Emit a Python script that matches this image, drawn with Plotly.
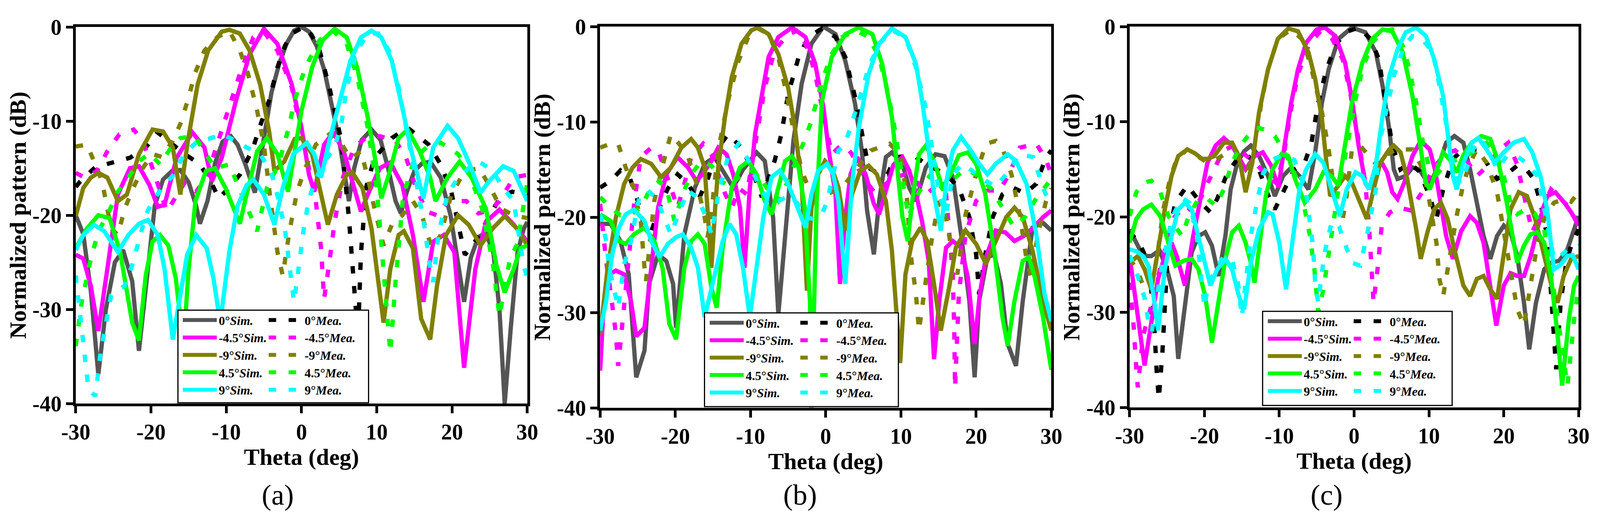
import plotly.graph_objects as go

# (theta in deg, normalized pattern in dB)
# ---- panel (a)
a_sim_0 = [(-30, -20), (-29, -22), (-28, -28), (-27, -36.9), (-26, -30), (-24.8, -25), (-23.7, -23.7),
           (-22.5, -27), (-21.6, -34.4), (-20.5, -26), (-19.5, -19), (-18.4, -16.2), (-17.2, -15.3),
           (-16.1, -15.2), (-15, -16.5), (-14, -19), (-13.5, -20.9), (-12.5, -18.5), (-11.5, -14.5),
           (-10.5, -12.2), (-9.4, -11.6), (-8.5, -12.5), (-7.5, -14.5), (-6.2, -17.6), (-5, -11.5),
           (-4, -7), (-3, -4), (-2, -1.8), (-1, -0.4), (0, 0), (1, -0.5), (2, -2), (3, -4.5), (4, -8),
           (5, -12), (5.8, -16), (6.3, -18.5), (7, -15), (8, -12), (9.3, -10.9), (10.5, -12), (11.5, -15),
           (12.5, -18.5), (13.2, -19.8), (14, -17.5), (15, -15.3), (16, -14.5), (17.1, -14.3), (18.5, -16),
           (19.8, -20), (20.8, -25), (21.6, -29.2), (22.5, -24.5), (23.5, -22.3), (24.5, -21.9), (25.5, -24),
           (26.3, -30), (27, -40), (27.8, -32), (28.7, -24), (29.5, -21.5), (30, -20.7)]
a_mea_0 = [(-30, -17), (-29.4, -16.4), (-27.4, -14.9), (-24.8, -14.4), (-22.8, -13.9), (-20.7, -12.8),
           (-19.1, -11.2), (-17.1, -12.5), (-15.5, -13.5), (-13.5, -14.6), (-12, -16.5), (-11, -18.2),
           (-9.5, -17), (-8.2, -15.7), (-6.5, -13), (-5.5, -10.5), (-4.3, -7.8), (-3.2, -4.3), (-2.2, -2),
           (-1.3, -0.7), (0.3, 0), (1.3, -0.8), (2.4, -2.5), (3.7, -6.4), (4.6, -9.5), (5.3, -12.1),
           (6.3, -20.3), (7, -27.4), (7.5, -33), (7.9, -24), (8.6, -17), (9.7, -13.9), (12, -11.8),
           (14.1, -10.7), (16.9, -12.5), (18.5, -14.6), (19.9, -17.5), (21.7, -24.2), (22.5, -23.5),
           (23.6, -22.1), (25, -20), (26.5, -18), (28, -17.5), (30, -17.8)]
a_sim_m45 = [(-30, -24.2), (-29, -24.6), (-28, -27.5), (-27, -32.3), (-25.8, -25.7), (-24.4, -17.8),
             (-22.8, -15), (-21.6, -14.8), (-20.2, -16.8), (-19.1, -19.1), (-18.2, -18.9), (-16.6, -13.9),
             (-14.5, -11.2), (-12.9, -12.8), (-11.9, -16.4), (-10.6, -13.9), (-8.7, -7.8), (-6.9, -2.9),
             (-5, -0.2), (-3.2, -1.8), (-1.3, -6.1), (0, -10.7), (1, -15.7), (1.7, -17.5), (3, -12.5),
             (4.2, -11.2), (5.6, -13.2), (7, -17.1), (7.9, -19.6), (8.8, -17.8), (10.4, -15), (11.8, -14.4),
             (13.4, -16.8), (14.8, -22.1), (16.2, -29.2), (17.5, -22.8), (18.9, -22.1), (20.3, -23.9),
             (21.6, -36.2), (23.1, -25.7), (24.5, -20.7), (26.3, -19.4), (28.2, -21), (30, -22.8)]
a_mea_m45 = [(-30, -15.5), (-28.8, -16), (-27.2, -15.3), (-25.8, -13.2), (-24.2, -11.4), (-22.3, -10.9),
             (-21.1, -12.1), (-19.8, -15), (-17.9, -19.6), (-16.6, -18), (-15.5, -16.5), (-14, -17.5),
             (-12.4, -15.7), (-11.7, -13.7), (-10.1, -9.6), (-8.2, -5), (-6.4, -1.1), (-5, -0.5),
             (-3.2, -2.5), (-1.3, -6.4), (0.5, -13.2), (1.9, -18.5), (2.6, -23.5), (3, -28.9), (3.7, -25),
             (4.4, -20.7), (5.5, -16), (7, -12.8), (8.5, -11.8), (10.4, -11.6), (12.5, -12.1), (13.9, -13.9),
             (15, -16.6), (16.6, -19.6), (18, -20), (19.4, -18.5), (21.9, -18.5), (23.5, -19.8), (25, -19.5),
             (26.3, -18.5), (28.2, -16), (30, -15.7)]
a_sim_m9 = [(-30, -20.1), (-29, -17.1), (-28, -16), (-27, -15.5), (-25.8, -16), (-24.4, -18.5), (-23.2, -17.8),
            (-21.6, -13.5), (-19.8, -10.9), (-18.4, -11.1), (-17.1, -12.8), (-16.1, -17.8), (-15.1, -12.1),
            (-13.8, -6.1), (-12.4, -2.5), (-10.6, -0.5), (-9.6, -0.3), (-8.2, -0.7), (-6.9, -2.5),
            (-5.5, -6.1), (-4.3, -11.1), (-3.6, -15.3), (-2.3, -14.3), (-0.9, -11.9), (0, -11.8),
            (1.4, -13.5), (2.6, -17.8), (3.5, -21), (4.7, -17.8), (6, -15.7), (6.7, -15.4), (8.1, -17.1),
            (9.3, -21.4), (10.2, -27.5), (10.9, -31.4), (11.8, -25.7), (12.9, -22.1), (13.6, -21.7),
            (14.8, -23.5), (15.9, -31), (17.1, -33.2), (18, -27.5), (19.2, -22.1), (20.8, -20), (22.2, -21),
            (23.8, -23.2), (25.4, -21.4), (27, -20.1), (28.6, -21.4), (30, -23.2)]
a_mea_m9 = [(-30, -12.7), (-28.5, -12.5), (-27.4, -14.6), (-26.5, -16.4), (-25.3, -21.4), (-24.4, -22.1),
            (-23.5, -19.3), (-22.3, -17), (-21.1, -15), (-19.8, -13.5), (-18.6, -13.8), (-17.1, -12.1),
            (-16.1, -10.3), (-15, -7.5), (-14.2, -5), (-12.9, -2.5), (-11.2, -1.1), (-9.6, -0.4),
            (-8.2, -2.5), (-7.1, -5), (-5.9, -8.9), (-5, -12.5), (-4.1, -18.5), (-3.2, -23.9), (-2.5, -26.4),
            (-1.6, -21.7), (-0.6, -17.5), (0.5, -15), (1.9, -12.5), (3.7, -11.4), (5.1, -12.1), (6.5, -14),
            (7.9, -13.2), (8.8, -16), (9.7, -19.3), (10.9, -23.2), (12, -21), (13.4, -20), (14.8, -18.5),
            (16, -20), (17.3, -23.5), (18.5, -22.1), (19.9, -17.8), (21.7, -15.3), (23.6, -15), (25, -16.9),
            (26.5, -19.3), (28.2, -20), (30, -20.3)]
a_sim_45 = [(-30, -23.5), (-28.5, -21.4), (-27, -20), (-25.5, -20.3), (-24.1, -23.9), (-22.5, -31.4),
            (-21.6, -33.3), (-20.7, -26.4), (-19.8, -22.8), (-18.8, -22.1), (-17.7, -23.2), (-16.7, -26.7),
            (-16.1, -31), (-15.7, -34), (-15, -25.7), (-14.1, -18.5), (-12.7, -15.3), (-11.5, -15),
            (-10.1, -17.1), (-8.2, -20.9), (-7.3, -17.8), (-5.9, -13.2), (-4.6, -11.8), (-3.2, -13.5),
            (-1.8, -17.5), (-0.9, -13.2), (0, -8.9), (1.4, -4.3), (2.8, -1.4), (4.4, -0.2), (6, -1.1),
            (7.4, -4.3), (8.8, -9.6), (10, -15), (10.6, -18.2), (11.6, -15.7), (12.9, -11.8), (14.1, -10.9),
            (15.7, -13.2), (17.1, -16), (17.8, -18.5), (19.4, -16), (21, -14.3), (22.6, -16), (24.5, -19.3),
            (25.9, -25.3), (27, -28.2), (28.2, -25.7), (29.1, -23.5), (30, -23.2)]
a_mea_45 = [(-30, -33.9), (-29.2, -29.2), (-28.1, -25), (-27, -21.7), (-25.8, -20), (-24.4, -17.5), (-23, -16),
            (-21.6, -14.3), (-20.2, -13.4), (-18.8, -14.6), (-17.5, -13), (-16.1, -11.8), (-14.2, -11.6),
            (-12.9, -13.2), (-11.5, -15), (-9.6, -14.6), (-7.8, -18), (-5.9, -21.7), (-4.6, -17.1),
            (-3, -14.5), (-1.8, -11), (-0.9, -7.8), (0.5, -4.3), (2.4, -1.4), (4.2, -0.4), (6, -1.8),
            (7.4, -5.3), (8.8, -10.7), (10, -17.1), (10.6, -22.8), (11.3, -28.5), (11.8, -34.6), (12.5, -27),
            (13.5, -18), (15, -14), (16.6, -12.8), (18.5, -12.3), (20.8, -13.5), (22, -15), (24, -19.3),
            (25.4, -25), (26.3, -30.7), (27.7, -24.6), (28.7, -23), (29.5, -19), (30, -16.5)]
a_sim_9 = [(-30, -23.7), (-29, -22.1), (-27.6, -21), (-26.2, -21.7), (-24.4, -23.9), (-23, -22.1),
           (-21.6, -20.9), (-20.4, -20.5), (-19.1, -22.1), (-18.2, -25.7), (-17.1, -33.2), (-16.1, -28.2),
           (-15.2, -24.2), (-14, -22.1), (-12.6, -23.5), (-11.7, -26.7), (-10.8, -31.4), (-9.6, -23.9),
           (-8.5, -19), (-7.3, -16.8), (-6.4, -16.2), (-5, -17.8), (-3.6, -21), (-2.5, -17.1), (-1.1, -13.5),
           (0.7, -12.3), (1.7, -13.5), (2.6, -16), (3.7, -12.1), (5.1, -7.8), (6.5, -3.6), (7.9, -1.1),
           (9.3, -0.4), (10.6, -1.1), (12, -3.6), (13.4, -8.6), (14.6, -13.2), (16.2, -18.2), (17.5, -12.8),
           (19.4, -10.5), (20.8, -11.8), (22.2, -14.3), (23.8, -17.6), (24.9, -16.4), (26.8, -14.8),
           (28.2, -15.3), (30, -18.5)]
a_mea_9 = [(-30, -26.4), (-29.4, -31), (-28.8, -34.6), (-28.3, -38.5), (-27.4, -39.2), (-26.7, -34.6),
           (-25.3, -28.5), (-23.5, -27.5), (-22.5, -25.3), (-21.5, -22.5), (-20.7, -20), (-19.8, -18.5),
           (-18.4, -17), (-17, -15.7), (-15.6, -13.5), (-13.8, -12.1), (-12.4, -11.9), (-10.6, -11.4),
           (-8.7, -12.1), (-7.3, -12.8), (-5.5, -13.5), (-4, -15.5), (-3, -18.5), (-2.2, -21.5),
           (-1.6, -25), (-1, -29.2), (-0.4, -25.7), (0.3, -21.4), (1, -18.2), (2, -16), (3, -14.3),
           (4.3, -13), (5.3, -10.3), (6, -6.4), (7.4, -2.5), (8.8, -0.7), (10.2, -0.7), (11.6, -2.5),
           (12.9, -6.4), (14.1, -11.4), (15.2, -16), (16.3, -21), (17, -25), (17.5, -27.1), (18.2, -22),
           (19.4, -17.8), (20.8, -16), (22.2, -15), (23.6, -14.3), (25.4, -15.3), (26.8, -17.1),
           (28.2, -18.5), (29.5, -25.3), (30, -26.7)]

# ---- panel (b)
b_sim_0 = [(-30, -20.7), (-28.6, -20.7), (-27.3, -22.5), (-26.2, -26), (-25.2, -36.8), (-24.1, -34),
           (-23.5, -27), (-22.3, -23.9), (-21.2, -24.6), (-20.3, -27), (-19.9, -31.6), (-18.8, -21.8),
           (-17.4, -16.9), (-16.1, -14.4), (-14.8, -13.7), (-13.4, -15.5), (-12.3, -16.9), (-11, -15),
           (-9.2, -13.2), (-8.1, -14.1), (-7, -20), (-6.3, -30.2), (-5.4, -21.8), (-4.3, -12), (-3.2, -6),
           (-1.9, -1.8), (-0.3, 0), (1.3, -0.8), (2.6, -3.6), (3.9, -8.1), (4.8, -13), (5.5, -19.3),
           (6.4, -23.9), (7.1, -18.3), (8, -13.7), (8.8, -13.2), (10.2, -14.4), (11.1, -16.9), (12, -18.3),
           (13.3, -14.8), (14.6, -13.4), (15.8, -13.6), (16.9, -15.8), (18, -21.8), (19.1, -28.8),
           (19.8, -36.8), (20.4, -28.8), (21.5, -24.2), (22.4, -23.9), (23.3, -27), (24.2, -33.3),
           (25.3, -35.6), (26.2, -28.8), (27.5, -21.1), (28.9, -20.6), (30, -21.4)]
b_mea_0 = [(-30, -16.9), (-28.6, -16.2), (-27.3, -15.1), (-26, -16), (-25, -18.3), (-24.1, -21.1),
           (-23.2, -21.5), (-22.1, -19), (-21, -17), (-19.7, -15.5), (-18.3, -16.5), (-17, -18.3),
           (-15.7, -16), (-14.3, -12.7), (-13, -11.3), (-11.2, -12.7), (-9.9, -14.8), (-8.5, -17.9),
           (-6.8, -14.1), (-5.9, -11.3), (-5, -7.1), (-3.6, -3.2), (-2.3, -1.1), (-0.5, -0.2), (1.3, -1.1),
           (2.6, -3.2), (3.9, -7.4), (4.8, -11.3), (5.7, -14.8), (7.1, -15.5), (8.2, -15.5), (9.3, -13.7),
           (10.6, -13.6), (12, -13.7), (13.3, -14.4), (14.7, -15), (16, -15.5), (17.7, -16.9), (19.1, -20),
           (20, -23.9), (20.4, -28.1), (21.2, -24), (22.2, -20), (23.5, -17.6), (24.9, -16.9), (26.5, -17.5),
           (28, -16.5), (29.3, -13.7), (30, -13)]
b_sim_m45 = [(-30, -36.1), (-29.5, -28.8), (-28.8, -26), (-27.9, -25.6), (-26.8, -26), (-25.9, -28.8),
             (-25.2, -32.5), (-24.1, -31.6), (-23.2, -25.3), (-22.3, -19), (-21.2, -15.5), (-19.7, -13.7),
             (-18.3, -14.8), (-17.2, -16.2), (-16.2, -15.3), (-15.2, -14.1), (-14.3, -12.7), (-13.2, -13.4),
             (-12.3, -15.5), (-11.4, -19), (-10.8, -25.3), (-10.1, -17), (-9.4, -11.3), (-8.5, -7.1),
             (-7.6, -3.2), (-6.3, -1.1), (-4.5, -0.1), (-2.7, -1.1), (-1.4, -3.9), (-0.3, -8.5), (0.4, -13),
             (1.3, -17.6), (1.7, -25.3), (1.9, -27), (2.6, -20), (3.3, -15.5), (4.2, -13.7), (5.3, -15.5),
             (6.4, -18.6), (7.1, -19.7), (8, -17.2), (9, -14.5), (10.2, -13.7), (11.1, -15.1), (12, -17.5),
             (12.8, -20.4), (13.7, -24.6), (14.4, -34.9), (15.1, -28.8), (16, -23.2), (16.9, -22.5),
             (18, -23.2), (18.9, -26.3), (19.8, -33.3), (20.5, -28), (21.3, -24.2), (22.6, -21.4),
             (23.9, -21.6), (25.1, -22.5), (26.3, -22), (27.6, -21.1), (28.9, -20), (30, -19.3)]
b_mea_m45 = [(-30, -18.6), (-29.2, -24.6), (-28.5, -28.5), (-27.9, -32.3), (-27.6, -35.6), (-26.8, -28.8),
             (-26.1, -23.5), (-25.4, -18), (-24.6, -13.7), (-23.2, -12.7), (-22.2, -13.2), (-21.5, -14.8),
             (-20.6, -17), (-19.7, -19), (-18.8, -16.5), (-17.9, -13.7), (-16.3, -12.3), (-15.2, -13.4),
             (-14.3, -15.5), (-13.4, -17.5), (-12.5, -19), (-11.5, -17), (-10.5, -17.6), (-9.8, -14.5),
             (-9, -10.9), (-8.1, -6.4), (-6.8, -2.5), (-5, -0.8), (-3.6, -0.4), (-2.3, -2.5), (-1.4, -5),
             (-0.5, -8.5), (0.2, -11.3), (0.8, -13.4), (1.7, -12.7), (2.6, -12.5), (3.5, -13.4), (4.4, -15),
             (5.3, -16.2), (6.6, -17.5), (8, -16.5), (9.3, -15.8), (10.6, -15.5), (12, -16.2), (13.3, -17.6),
             (14.6, -16.8), (16, -17.6), (16.9, -26), (17.1, -32.3), (17.2, -37.9), (17.7, -28.1),
             (18.6, -21.8), (20, -18.3), (21.5, -17.2), (23.1, -17.2), (24.4, -15.5), (25.8, -12.7),
             (28, -12.3), (29.2, -13.8), (30, -15.5)]
b_sim_m9 = [(-30, -32.3), (-29, -25.3), (-27.9, -20), (-26.8, -16.5), (-25.7, -14.8), (-24.6, -13.9),
            (-23.2, -14.4), (-21.9, -15.8), (-20.6, -14.8), (-19.2, -12.7), (-17.9, -11.8), (-17, -12.7),
            (-16.1, -14.8), (-15.6, -20), (-15.2, -25.3), (-14.7, -19), (-14.3, -14.8), (-13.4, -9.5),
            (-12.5, -5.3), (-11.2, -1.8), (-9.9, -0.4), (-9, -0.1), (-7.6, -0.8), (-6.3, -2.9), (-5, -6.4),
            (-4.1, -10.6), (-3.2, -16.5), (-2.5, -27.7), (-1.9, -19), (-1, -15.5), (-0.1, -14.1),
            (0.8, -14.8), (1.7, -16.9), (2.6, -21.4), (3.5, -17.6), (4.6, -15.1), (5.7, -14.6), (6.8, -15.5),
            (8, -18.3), (8.8, -23.5), (9.9, -35.3), (10.6, -26), (11.5, -22.5), (12.6, -21.1), (13.5, -22.5),
            (14.4, -27), (15.3, -31.9), (16.4, -27.4), (17.3, -23.2), (18.6, -21.4), (20, -22.8),
            (21.3, -24.9), (22.6, -22.5), (24, -20), (25.1, -19), (26.2, -20), (27.5, -23.5), (28.9, -28.8),
            (30, -31.9)]
b_mea_m9 = [(-30, -12.7), (-28.6, -12.3), (-27.6, -12.3), (-26.6, -14.8), (-25.5, -17), (-24.6, -20.4),
            (-24.1, -25.3), (-23.9, -26.7), (-23.3, -22), (-22.8, -18.3), (-21.5, -14), (-20.6, -11.3),
            (-19.5, -12.3), (-18.3, -13.7), (-17, -16.9), (-16.1, -20), (-15.7, -22.1), (-15, -18),
            (-14.3, -13), (-13, -7.8), (-11.6, -3.6), (-10.3, -1.1), (-9, -0.2), (-7.6, -0.8), (-6.3, -3.2),
            (-5.2, -7.1), (-4.1, -11.7), (-3.2, -15.1), (-2, -17.5), (-1, -18), (0.5, -17.5), (1.5, -17),
            (2.6, -16.5), (4.5, -14.5), (6, -13), (8.5, -12.3), (10, -13.5), (10.8, -18), (11.3, -23.9),
            (12, -28.1), (12.4, -31.9), (13.3, -26.7), (14.2, -21.8), (15.1, -18.3), (16, -20), (16.9, -24.2),
            (17.5, -26), (18.6, -19.7), (20, -15.5), (21.3, -12.3), (22.6, -12), (23.6, -13), (24.7, -15.5),
            (25.8, -19.7), (26.6, -23.9), (27.3, -26.3), (28.2, -21.8), (29.3, -18.3), (30, -17)]
b_sim_45 = [(-30, -19.7), (-28.6, -20.4), (-27.5, -22.5), (-26.6, -22.8), (-25.5, -21.8), (-24.1, -21.1),
            (-22.8, -22.5), (-21.7, -25.3), (-20.8, -31.2), (-19.9, -32.8), (-18.8, -25.3), (-17.9, -22.5),
            (-17, -21.8), (-16.1, -22.8), (-15.2, -27.4), (-14.5, -29.5), (-13.7, -23.2), (-12.5, -16.9),
            (-11.4, -14.8), (-10.3, -14.1), (-9.2, -15.5), (-8.1, -18.3), (-7.2, -19.7), (-6.3, -16.9),
            (-5.4, -14.1), (-4.5, -13.6), (-3.6, -14.8), (-2.8, -19), (-2.1, -28.8), (-1.9, -40),
            (-1.2, -18.3), (-0.5, -7.8), (0.8, -3.2), (2.6, -0.8), (4.4, -0.1), (6.2, -0.8), (7.5, -3.9),
            (8.8, -9.5), (9.8, -16.5), (10.2, -20), (10.9, -22.5), (11.5, -18.3), (12.4, -13.4),
            (13.3, -12.5), (14.4, -14.1), (15.5, -16.9), (16.6, -15.5), (17.7, -13.5), (18.9, -13.2),
            (20, -14.4), (21.2, -17.5), (22.4, -23.5), (23.5, -30.5), (24.2, -33.5), (25.1, -28.8),
            (26.2, -24.6), (27, -24.2), (27.8, -26.3), (28.9, -30.5), (29.8, -35.6), (30, -36)]
b_mea_45 = [(-30, -17.9), (-28.6, -19), (-27.3, -19.8), (-25.9, -19.7), (-24.6, -19), (-23.3, -17),
            (-22.1, -16.2), (-21, -17.6), (-20.1, -20.4), (-19, -17.5), (-17.9, -15.5), (-16.5, -14.1),
            (-15.2, -14.6), (-13.9, -16.2), (-12.8, -16.8), (-11.6, -15.8), (-10.3, -15), (-9, -15.5),
            (-7.6, -17.2), (-6.3, -18.3), (-5.2, -16.5), (-4.1, -14.5), (-3, -12.3), (-1.9, -9.9),
            (-0.5, -5.7), (0.8, -2.9), (2.2, -1.1), (4, -0.4), (5.7, -1.1), (7.1, -3.2), (8.4, -7.4),
            (9.3, -11.3), (10.2, -16.2), (11, -20), (12, -18), (13, -16.5), (14, -15.5), (15.5, -17),
            (17, -16), (18.5, -15), (20, -15.5), (22, -17), (23.5, -19), (25, -21), (26.5, -20), (28, -18),
            (30, -16)]
b_sim_9 = [(-30, -31.9), (-29.2, -28.8), (-28.4, -23.9), (-27.5, -21.1), (-26.6, -19.7), (-25.5, -19.2),
           (-24.1, -20.4), (-23.2, -22.5), (-22.1, -24.2), (-21, -22.8), (-19.9, -22.1), (-19, -21.8),
           (-17.9, -23.2), (-17, -25.3), (-16.1, -30.5), (-15.2, -27.5), (-14.5, -25.3), (-13.7, -22.5),
           (-12.8, -20.7), (-11.9, -21.8), (-11, -25.3), (-10.1, -30.5), (-9.2, -25.3), (-8.3, -20),
           (-7.2, -15.8), (-6.1, -15.1), (-5, -16.5), (-3.8, -19), (-2.7, -21.1), (-1.9, -17.6),
           (-1, -15.1), (0.2, -14.4), (1, -15.5), (1.7, -18.3), (2.6, -27), (3.5, -16.5), (4.4, -10.6),
           (5.7, -5), (7.1, -1.8), (8.8, -0.2), (10.6, -1.1), (12, -3.9), (12.9, -8.2), (13.7, -13),
           (14.4, -17.6), (15.3, -21.4), (16.1, -16), (16.9, -13), (18, -11.6), (19.3, -13), (20.4, -14.4),
           (21.5, -15.5), (22.6, -14.4), (24.2, -13.4), (25.3, -14.1), (26.7, -16.5), (28, -21.8),
           (29.1, -28.1), (30, -30.9)]
b_mea_9 = [(-30, -19.7), (-29.2, -22.5), (-28.8, -25.3), (-28.2, -27.5), (-27.6, -29.5), (-26.8, -24.9),
           (-25.9, -22.5), (-24.8, -17.9), (-23.7, -17.2), (-22.5, -18), (-21.5, -20), (-20.6, -21.8),
           (-19.4, -19.3), (-18.3, -17.2), (-17, -18), (-15.7, -20.4), (-15.2, -21.8), (-14.3, -17.6),
           (-13, -13.7), (-11.6, -12.3), (-10.3, -14), (-9, -16.5), (-7.6, -18.3), (-6.3, -18.3),
           (-5, -17.8), (-3.8, -18.5), (-2.7, -20), (-1.5, -20.2), (-0.5, -19.7), (0.2, -18.3), (1, -15.5),
           (1.7, -13), (2.5, -12.5), (3.3, -10.6), (4.4, -7.8), (5.7, -4.3), (7.1, -1.8), (8.8, -0.4),
           (10.6, -1.1), (12, -4.3), (13.3, -8.5), (14.2, -13), (15.1, -17.6), (16, -19.7), (16.9, -15.5),
           (18.2, -14.4), (19.7, -15.3), (21.3, -16.2), (22.6, -16.8), (24, -15.5), (25.8, -13.4),
           (27.6, -13.7), (28.9, -16.9), (30, -19)]

# ---- panel (c)
c_sim_0 = [(-30, -21.3), (-29.1, -22.7), (-28.2, -24.1), (-27.1, -24.1), (-26, -23.5), (-25, -25.5),
           (-24.1, -28.3), (-23.5, -34.9), (-22.6, -29.7), (-21.7, -23.7), (-20.8, -22), (-19.9, -21.6),
           (-19, -23), (-18.1, -26.2), (-17.2, -22), (-16.5, -17.1), (-15.6, -14.3), (-14.7, -13.1),
           (-13.8, -12.5), (-12.7, -13.6), (-11.5, -15.7), (-10.6, -17.8), (-9.5, -15.7), (-8.4, -14.8),
           (-7.3, -15.7), (-6.1, -17.1), (-5.2, -13.2), (-4.3, -8), (-3.4, -4.5), (-2.1, -1.3), (-0.3, -0.1),
           (1.5, -0.6), (2.9, -2.7), (3.8, -6.2), (4.7, -10.8), (5.3, -15), (5.8, -16), (6.9, -15.7),
           (7.8, -14.8), (8.7, -15), (10.1, -16.7), (11.4, -14.3), (12.3, -12.2), (13.4, -11.5),
           (14.6, -12.2), (15.5, -15), (16.4, -18.5), (17.3, -22), (18.2, -24.4), (19.1, -22), (20, -20.9),
           (20.9, -21.6), (21.8, -24.1), (22.7, -29), (23.4, -33.9), (24.3, -29), (25.4, -25.5),
           (26.3, -24.8), (27.4, -24.6), (28.5, -23.4), (30, -19.9)]
c_mea_0 = [(-30, -21.6), (-28.7, -22.7), (-27.5, -24.8), (-26.8, -30), (-26.4, -36), (-26.1, -39.1),
           (-25.6, -34), (-25.2, -28), (-24.8, -22), (-23.9, -18.5), (-22.3, -16.7), (-20.5, -18.5),
           (-19.2, -19.5), (-18.3, -18.1), (-17, -15.5), (-15.6, -13.9), (-14.3, -13.5), (-12.9, -14.6),
           (-11.6, -17.5), (-10.6, -19.2), (-9.3, -17.1), (-8, -15), (-6.6, -14.3), (-5.7, -12.2),
           (-4.8, -8), (-3.7, -4.5), (-2.5, -2), (-1.2, -0.6), (0.6, -0.1), (2.2, -1.3), (3.3, -3.4),
           (4.2, -8), (5.1, -12.5), (6.2, -15), (7.4, -14.3), (8.7, -15.2), (10.1, -17.8), (11, -20.2),
           (11.9, -17.1), (13.2, -13.9), (14.6, -12.9), (16.4, -12.9), (17.7, -14.3), (19.1, -16),
           (20.4, -15.5), (21.8, -14.6), (23, -15), (24, -16), (24.9, -18.5), (25.8, -22), (26.3, -27.2),
           (26.7, -32.5), (27, -36), (27.6, -29), (28.3, -25), (29, -23), (30, -21.3)]
c_sim_m45 = [(-30, -24.1), (-29.3, -27.9), (-28.6, -31.8), (-28, -35.6), (-27.1, -31.1), (-26.2, -26.5),
             (-25.3, -24.1), (-24.4, -22.7), (-23.7, -24.1), (-22.6, -27.2), (-21.5, -22), (-20.5, -17.8),
             (-19.6, -14.3), (-18.5, -12.5), (-17.4, -11.7), (-16.3, -12.5), (-15.1, -14.3), (-14.5, -15),
             (-13.3, -13.6), (-12.2, -13.2), (-11.1, -14.6), (-10.1, -16.9), (-9.3, -12.5), (-8.4, -8),
             (-7.5, -4.5), (-6.4, -1.7), (-5, -0.3), (-3.9, -0.1), (-2.5, -1), (-1.2, -3.8), (-0.3, -7.6),
             (0.6, -12.5), (1.5, -16.4), (2, -17.1), (2.9, -14.6), (3.7, -14.3), (4.4, -15.3), (5.1, -17.4),
             (5.8, -18.1), (6.7, -16.4), (7.8, -13.6), (8.9, -12), (10.1, -12.9), (10.8, -15), (11.4, -17.8),
             (12.3, -22), (13.2, -24.4), (14.3, -21.5), (15.5, -19.9), (16.4, -20.6), (17.3, -22.7),
             (18.2, -27.2), (19, -31.4), (20, -27.2), (20.9, -25.9), (21.8, -26.2), (22.7, -26.2),
             (23.6, -24.1), (24.7, -20.6), (25.8, -17.8), (26.9, -17.4), (28.1, -18.5), (29, -19.5),
             (30, -20.9)]
c_mea_m45 = [(-30, -26.9), (-29.5, -31), (-29.1, -36), (-28.9, -37.9), (-28.2, -32.5), (-27, -29),
             (-25.5, -24), (-24, -20), (-22.5, -18.8), (-21.5, -19.5), (-20.5, -18), (-19, -15.5),
             (-17.5, -13), (-16, -12.5), (-14.5, -13.5), (-13, -14.5), (-11.5, -15.8), (-10.3, -16.5),
             (-9.3, -13), (-8.5, -9), (-7.5, -5), (-6, -1.8), (-4.5, -0.5), (-3, -1.2), (-1.5, -3.5),
             (-0.5, -7), (0.5, -11.5), (1.5, -16.5), (2, -21), (2.3, -25.5), (2.6, -29), (3.2, -25),
             (3.7, -20.8), (4.8, -19.5), (6, -19), (7.5, -19.3), (9, -17.5), (10.5, -15), (12, -13.5),
             (13.5, -13), (15, -14), (16.4, -15.7), (18, -14.5), (19.3, -13), (20.6, -12.2), (21.8, -14.5),
             (22.9, -18.5), (23.8, -21.6), (25, -19.5), (26.3, -17.1), (27.6, -18.1), (28.8, -19), (30, -21)]
c_sim_m9 = [(-30, -24.8), (-28.9, -24.1), (-28, -25.5), (-27.1, -27.6), (-26.2, -23.5), (-25.3, -19.2),
            (-24.4, -15.7), (-23.5, -13.6), (-22.3, -12.9), (-21.3, -13.3), (-20.3, -13.9), (-19.6, -13.9),
            (-18.7, -13.6), (-17.4, -12.2), (-16.3, -12.2), (-15.4, -13.6), (-14.5, -17.4), (-13.6, -14.3),
            (-12.7, -9), (-11.5, -4.5), (-10.2, -1.3), (-8.8, -0.2), (-7.5, -0.5), (-6.1, -2.7), (-5.2, -5.5),
            (-4.3, -9.7), (-3.7, -14.3), (-3.2, -17.8), (-2.1, -16.7), (-1.2, -15.7), (-0.3, -16.4),
            (0.8, -18.5), (1.7, -20.2), (2.6, -17.1), (3.5, -14.3), (4.7, -12.9), (5.3, -12.5), (6.2, -13.2),
            (7.1, -16), (8.3, -21.3), (8.9, -24.4), (9.8, -21.6), (10.7, -19.2), (11.6, -18.5),
            (12.5, -20.2), (13.4, -23.4), (14.6, -27.2), (15.5, -28.3), (16.4, -26.5), (17.3, -26.2),
            (18.2, -27.6), (19.1, -28.6), (20, -24.1), (20.9, -19.2), (22, -17.4), (23.1, -17.8),
            (24.2, -20.2), (25.4, -24.1), (26.5, -27.6), (27.2, -29), (28, -26.2), (29, -24.4), (30, -24.1)]
c_mea_m9 = [(-30, -24.4), (-29, -25.5), (-28.2, -27.2), (-27.1, -27.5), (-26.2, -23.5), (-25.5, -19.2),
            (-24.6, -16), (-23.7, -13.9), (-22.3, -12.9), (-21, -13.6), (-19.6, -14.3), (-18.3, -13.9),
            (-16.9, -13.2), (-15.9, -13.5), (-14.2, -15), (-13.3, -12.5), (-12.4, -8), (-11.5, -4.5),
            (-10.2, -1.3), (-8.4, -0.3), (-7, -1.3), (-5.9, -3.8), (-5.2, -6.2), (-4.3, -9), (-3.4, -12.9),
            (-2.8, -16.4), (-2.2, -19), (-1.6, -20.6), (-1, -17.8), (-0.3, -12.9), (0.8, -12.5),
            (2, -13.6), (3.1, -14.6), (4.3, -13.5), (5.6, -12.9), (7.8, -12.9), (9.2, -15), (10.1, -18.5),
            (11, -22.7), (11.4, -26.5), (11.9, -28.3), (12.8, -24.1), (13.7, -19.9), (14.6, -16.5),
            (15.5, -14.3), (16.4, -12.9), (17.7, -14.3), (19.1, -17.4), (20, -21.5), (20.9, -26.2),
            (21.8, -29.7), (22.7, -31.4), (23.6, -27.2), (24.5, -22.7), (25.4, -20.2), (26.7, -18.5),
            (28.1, -18.1), (29, -18.4), (30, -17.4)]
c_sim_45 = [(-30, -22.7), (-29.1, -20.2), (-28.2, -19.2), (-27.1, -18.7), (-25.9, -19.9), (-24.8, -22.7),
            (-23.9, -25.1), (-22.8, -24.6), (-21.7, -24.4), (-20.8, -25.5), (-19.9, -28.3), (-19, -33.2),
            (-18.1, -28.8), (-17.2, -24.4), (-16.3, -21.6), (-15.4, -20.9), (-14.5, -22.7), (-13.8, -24.8),
            (-13.3, -26.9), (-12.6, -22.5), (-11.8, -17.8), (-10.9, -15), (-9.7, -13.4), (-8.8, -13.6),
            (-7.9, -16), (-6.6, -18.5), (-5.2, -17.1), (-4.1, -15.3), (-3, -15.7), (-2.1, -16.7),
            (-1.2, -12.2), (-0.3, -8), (1.1, -3.8), (2.4, -1.3), (3.8, -0.3), (5.1, -0.5), (6.5, -2.7),
            (7.8, -7.3), (8.7, -11.8), (9.6, -16.4), (10.1, -17.1), (11, -15), (11.9, -13.2), (12.8, -14),
            (13.7, -15.3), (14.6, -13.5), (15.7, -12.2), (17, -11.5), (18.2, -11.8), (19.3, -14.3),
            (20.4, -18.5), (21.8, -24.8), (22.7, -23), (23.6, -21.8), (24.5, -21.6), (25.4, -22.7),
            (26.3, -26.2), (27.2, -32.5), (27.8, -37.7), (28.7, -30.7), (29.4, -27.2), (30, -26.2)]
c_mea_45 = [(-30, -19.9), (-29.1, -17.4), (-28.2, -16.4), (-27.1, -16.2), (-25.9, -17.4), (-24.8, -19.9),
            (-23.9, -21), (-23, -22), (-22.1, -19.9), (-20.8, -18.1), (-19.6, -18.1), (-18.5, -18.8),
            (-17.4, -17.1), (-16.3, -14.3), (-15.2, -12.5), (-14.2, -11.5), (-13.1, -10.6), (-12, -10.8),
            (-10.6, -11.5), (-9.5, -12.9), (-8.4, -14.6), (-7.5, -16.4), (-6.6, -19.2), (-5.9, -22),
            (-5.3, -25.5), (-5, -29), (-4.8, -30), (-4.1, -27.6), (-3.4, -24.1), (-2.8, -20.5), (-2.1, -17.1),
            (-1, -12.9), (0.2, -7.6), (1.1, -4.5), (2.4, -1.7), (3.8, -0.5), (5.1, -0.3), (6.5, -2),
            (7.4, -4.5), (8.3, -8), (9.2, -12.2), (10.1, -15), (11.1, -15.5), (12.3, -14.3), (13.7, -14),
            (15, -13.6), (16.4, -12.9), (17.7, -12.2), (19.1, -13.6), (20, -15.7), (20.9, -18.5),
            (21.8, -19.7), (22.9, -19.2), (24.1, -19.6), (25.4, -21.3), (26.3, -25.5), (27.2, -30.5),
            (28.1, -36), (28.5, -37.7), (29, -34), (29.4, -30.7), (30, -27.2)]
c_sim_9 = [(-30, -23.4), (-29.1, -23.6), (-28.2, -24.1), (-27.5, -25.1), (-26.8, -28.3), (-26.2, -31.9),
           (-25.3, -25.5), (-24.4, -22), (-23.5, -19.2), (-22.6, -18.5), (-21.7, -19.2), (-20.8, -22),
           (-19.9, -24.8), (-19.2, -27.2), (-18.3, -25.5), (-17.2, -24.4), (-16.3, -25.5), (-15.4, -28.3),
           (-14.7, -29.7), (-13.8, -24.8), (-12.7, -21.3), (-11.5, -19.5), (-10.9, -19.7), (-10, -22.7),
           (-9.1, -27.6), (-8.2, -22), (-7.3, -17.1), (-6.4, -15), (-5.2, -13.4), (-4.1, -14.3),
           (-2.8, -17.8), (-1.9, -19.9), (-1, -17.1), (0.2, -15.3), (1.1, -15.7), (2, -17.1), (2.9, -14.6),
           (3.8, -9.4), (4.7, -5.2), (5.8, -2.4), (6.9, -0.6), (8.3, -0.1), (9.6, -1), (10.7, -3.4),
           (11.9, -7.3), (12.5, -11.5), (13.2, -15.7), (13.7, -17.1), (14.6, -14.3), (15.7, -12.2),
           (16.6, -11.7), (17.7, -12.9), (18.8, -14.3), (20, -13.2), (21.3, -12.2), (22.7, -11.8),
           (23.8, -13.2), (24.9, -15.7), (25.8, -19.2), (26.7, -25.5), (27.6, -25), (28.5, -24.1),
           (29.2, -24), (30, -25.5)]
c_mea_9 = [(-30, -24), (-29, -26), (-28, -28.5), (-27.5, -31), (-27, -32), (-26.5, -29), (-25.5, -24.5),
           (-24.3, -20), (-23, -18), (-22, -18.5), (-21, -22), (-20.5, -26), (-20, -29.5), (-19.5, -27),
           (-18.5, -25.5), (-17.5, -24.2), (-16.3, -24.5), (-15.5, -27), (-15, -30.5), (-14.5, -27),
           (-13.8, -22), (-13, -18.5), (-12.2, -15.5), (-11, -14), (-9.5, -13.5), (-8, -14), (-6.5, -17),
           (-6, -20), (-5.5, -23), (-5.2, -27), (-4.8, -29), (-4, -24), (-3, -20.5), (-2, -21), (-1.6, -22),
           (-0.3, -24.8), (0.8, -25.1), (1.7, -22), (2.9, -17.1), (3.3, -12.5), (4.2, -9), (5.3, -5.2),
           (6.7, -2), (7.8, -1), (9, -1.2), (10.5, -2.7), (11.4, -6.2), (12.3, -10.4), (13.2, -14.3),
           (14.1, -16.4), (15, -15), (15.9, -12.9), (16.8, -11.8), (18, -13), (19.1, -15), (20.4, -13.6),
           (21.7, -13.6), (23, -14.3), (24.5, -15.7), (25.8, -20.6), (26.7, -24.4), (27.6, -24.1),
           (28.5, -23.4), (30, -23)]

beams = ['0', '-4.5', '-9', '4.5', '9']
x_ticks = [-30, -20, -10, 0, 10, 20, 30]
y_ticks = [-40, -30, -20, -10, 0]
captions = ['(a)', '(b)', '(c)']

sim_colors = ['#555555', '#ff00ff', '#808000', '#00ff00', '#00ffff']
mea_colors = ['#000000', '#ff00ff', '#808000', '#00ff00', '#00ffff']

panels = [
    ([a_sim_0, a_sim_m45, a_sim_m9, a_sim_45, a_sim_9], [a_mea_0, a_mea_m45, a_mea_m9, a_mea_45, a_mea_9]),
    ([b_sim_0, b_sim_m45, b_sim_m9, b_sim_45, b_sim_9], [b_mea_0, b_mea_m45, b_mea_m9, b_mea_45, b_mea_9]),
    ([c_sim_0, c_sim_m45, c_sim_m9, c_sim_45, c_sim_9], [c_mea_0, c_mea_m45, c_mea_m9, c_mea_45, c_mea_9]),
]

W, H = 4415, 1344
# pixel boxes of each plot area (left, right, top, bottom) in the 4415x1344 picture
plot_px = [(209, 1455, 69, 1033), (1656, 2901, 68, 1044), (3117, 4356, 68, 1043)]
legend_box_px = [(491, 1017, 794, 1031), (1944, 2479, 801, 1041), (3484, 4007, 797, 1038)]
# x of solid line start, x of dashed line start, y of first row centre
legend_line_px = [(504, 741, 817), (1958, 2208, 824), (3498, 3735, 820)]
caption_px = [766, 2208, 3660]

fig = go.Figure()

for k, (sims, meas) in enumerate(panels):
    xa = 'x' if k == 0 else 'x%d' % (k + 1)
    ya = 'y' if k == 0 else 'y%d' % (k + 1)
    leg_sim = 'legend' if k == 0 else 'legend%d' % (2 * k + 1)
    leg_mea = 'legend%d' % (2 * k + 2)
    for i in range(5):
        th, db = zip(*sims[i])
        fig.add_trace(go.Scatter(x=th, y=db, mode='lines', name=beams[i] + '°<i>Sim.</i>',
                                 line=dict(color=sim_colors[i], width=11),
                                 xaxis=xa, yaxis=ya, legend=leg_sim))
        th, db = zip(*meas[i])
        fig.add_trace(go.Scatter(x=th, y=db, mode='lines', name=beams[i] + '°<i>Mea.</i>',
                                 line=dict(color=mea_colors[i], width=11, dash='19px,32px'),
                                 xaxis=xa, yaxis=ya, legend=leg_mea))

tick_font = dict(family='Liberation Serif', size=56, color='black', weight='bold')
title_font = dict(family='Liberation Serif', size=60, color='black', weight='bold')
legend_font = dict(family='Liberation Serif', size=32, color='black', weight='bold')

axis_style = dict(showline=True, linewidth=7, linecolor='black', mirror=True,
                  ticks='outside', ticklen=18, tickwidth=7, tickcolor='black',
                  showgrid=False, zeroline=False, tickfont=tick_font, automargin=False)

layout = dict(autosize=True, margin=dict(l=0, r=0, t=0, b=0, pad=0, autoexpand=False),
              paper_bgcolor='white', plot_bgcolor='white', showlegend=True)
shapes = []
annotations = []
for k in range(3):
    l, r, t, b = plot_px[k]
    sx = '' if k == 0 else str(k + 1)
    layout['xaxis' + sx] = dict(axis_style, domain=[l / W, r / W], range=[-30, 30],
                                tickvals=x_ticks, ticktext=[str(v) for v in x_ticks],
                                anchor='y' + sx,
                                title=dict(text='Theta (deg)', font=title_font, standoff=12))
    layout['yaxis' + sx] = dict(axis_style, domain=[1 - b / H, 1 - t / H], range=[-40, 0],
                                tickvals=y_ticks, ticktext=[str(v) for v in y_ticks],
                                anchor='x' + sx,
                                title=dict(text='Normalized pattern (dB)', font=title_font, standoff=0))
    x_sim, x_mea, y_row = legend_line_px[k]
    leg_sim = 'legend' if k == 0 else 'legend%d' % (2 * k + 1)
    leg_mea = 'legend%d' % (2 * k + 2)
    for name, xp in ((leg_sim, x_sim), (leg_mea, x_mea)):
        layout[name] = dict(x=(xp - 5) / W, y=1 - (y_row - 25) / H, xanchor='left', yanchor='top',
                            bgcolor='rgba(0,0,0,0)', borderwidth=0, font=legend_font,
                            itemwidth=87, tracegroupgap=0)
    bx0, bx1, by0, by1 = legend_box_px[k]
    shapes.append(dict(type='rect', xref='paper', yref='paper', layer='above',
                       x0=bx0 / W, x1=bx1 / W, y0=1 - by1 / H, y1=1 - by0 / H,
                       fillcolor='white', line=dict(color='black', width=3)))
    annotations.append(dict(text=captions[k], xref='paper', yref='paper', x=caption_px[k] / W,
                            y=1 - 1267 / H, showarrow=False, xanchor='center', yanchor='middle',
                            font=dict(family='Liberation Serif', size=74, color='black')))

layout['shapes'] = shapes
layout['annotations'] = annotations
fig.update_layout(layout)

fig.write_html("out.html", default_width='100vw', default_height='100vh',
               config={'displayModeBar': False},
               post_script="document.documentElement.style.overflow='hidden';"
                           "document.body.style.margin='0';"
                           "Plotly.Plots.resize(document.getElementById('{plot_id}'));")
